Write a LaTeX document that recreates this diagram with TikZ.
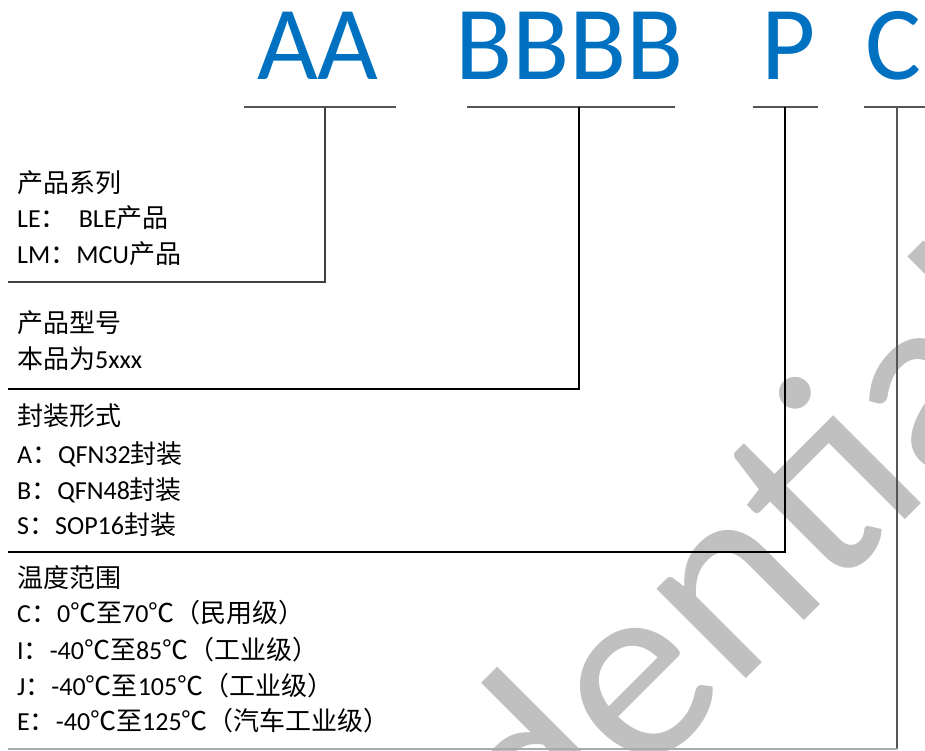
\documentclass[tikz,border=0pt]{standalone}
\usepackage{fontspec}
\setmainfont{Carlito}
\newfontfamily\cjk{Noto Sans CJK SC}
\usetikzlibrary{positioning}
\definecolor{CodeBlue}{RGB}{0, 112, 192}
\definecolor{RuleGray}{RGB}{85, 85, 85}
\definecolor{DarkGray}{RGB}{64, 64, 64}
\definecolor{EdgeGray}{RGB}{170, 170, 170}
\definecolor{MarkGray}{RGB}{192, 192, 192}

\tikzset{
  code/.style={anchor=base west, inner sep=0pt, text=CodeBlue, font=\fontsize{105}{105}\selectfont},
  item/.style={anchor=base west, inner sep=0pt, font=\fontsize{26}{30}\selectfont},
  uline/.style={RuleGray, line width=2pt},
  bracket/.style={line width=2pt},
}

\begin{document}
\begin{tikzpicture}[x=1pt, y=-1pt]
    \useasboundingbox (0,0) rectangle (925,751);

    % Watermark
    \node[anchor=base west, inner sep=0pt, rotate=45, text=MarkGray,
          font=\fontsize{265}{265}\selectfont] (mark) at (146.8,1278.2) {Confidential};

    % Code letters
    \node[code] (aa) at (257,80) {AA};
    \node[code] (bb) at (455,80) {BBBB};
    \node[code] (pk) at (761,80) {P};
    \node[code] (tc) at (865,80) {C};

    % Underlines and their drop points
    \coordinate (aaL) at (244,107); \coordinate (aaR) at (396,107); \coordinate (aaM) at (325,107);
    \coordinate (bbL) at (467,107); \coordinate (bbR) at (675,107); \coordinate (bbM) at (579,107);
    \coordinate (pkL) at (753,107); \coordinate (pkR) at (818,107); \coordinate (pkM) at (785,107);
    \coordinate (tcL) at (864,107); \coordinate (tcR) at (925,107); \coordinate (tcM) at (897,107);

    % Ends of the brackets
    \coordinate (aaE) at (8,282);
    \coordinate (bbE) at (8,389);
    \coordinate (pkE) at (8,552);
    \coordinate (tcB) at (897,749);
    \coordinate (tcE) at (8,749);

    \draw[uline] (aaL) -- (aaR);
    \draw[uline] (bbL) -- (bbR);
    \draw[uline] (pkL) -- (pkR);
    \draw[uline] (tcL) -- (tcR);

    \draw[bracket, DarkGray, line width=1.6pt] (aaM) |- (aaE);
    \draw[bracket, black] (bbM) |- (bbE);
    \draw[bracket, black] (pkM) |- (pkE);
    \draw[bracket, RuleGray, line width=1.6pt] (tcM) -- (tcB);
    \draw[bracket, EdgeGray, line width=1.6pt] (tcB) -- (tcE);

    % Product series
    \node[item] (ser) at (17,192.5) {{\cjk 产品系列}};
    \node[item] (ser1) at (17,228) {LE{\cjk ：}\hspace{12pt}BLE{\cjk 产品}};
    \node[item] (ser2) at (17,263.5) {LM{\cjk ：}MCU{\cjk 产品}};

    % Model
    \node[item] (mod) at (17,332) {{\cjk 产品型号}};
    \node[item] (mod1) at (17,368) {{\cjk 本品为}5xxx};

    % Package
    \node[item] (pkg) at (17,425) {{\cjk 封装形式}};
    \node[item] (pkg1) at (17,463) {A{\cjk ：}QFN32{\cjk 封装}};
    \node[item] (pkg2) at (17,499) {B{\cjk ：}QFN48{\cjk 封装}};
    \node[item] (pkg3) at (17,534) {S{\cjk ：}SOP16{\cjk 封装}};

    % Temperature range
    \node[item] (tmp) at (17,587) {{\cjk 温度范围}};
    \node[item] (tmp1) at (17,622) {C{\cjk ：}0{\cjk ℃至}70{\cjk ℃（民用级）}};
    \node[item] (tmp2) at (17,659) {I{\cjk ：}-40{\cjk ℃至}85{\cjk ℃（工业级）}};
    \node[item] (tmp3) at (17,695) {J{\cjk ：}-40{\cjk ℃至}105{\cjk ℃（工业级）}};
    \node[item] (tmp4) at (17,730) {E{\cjk ：}-40{\cjk ℃至}125{\cjk ℃（汽车工业级）}};
\end{tikzpicture}
\end{document}
